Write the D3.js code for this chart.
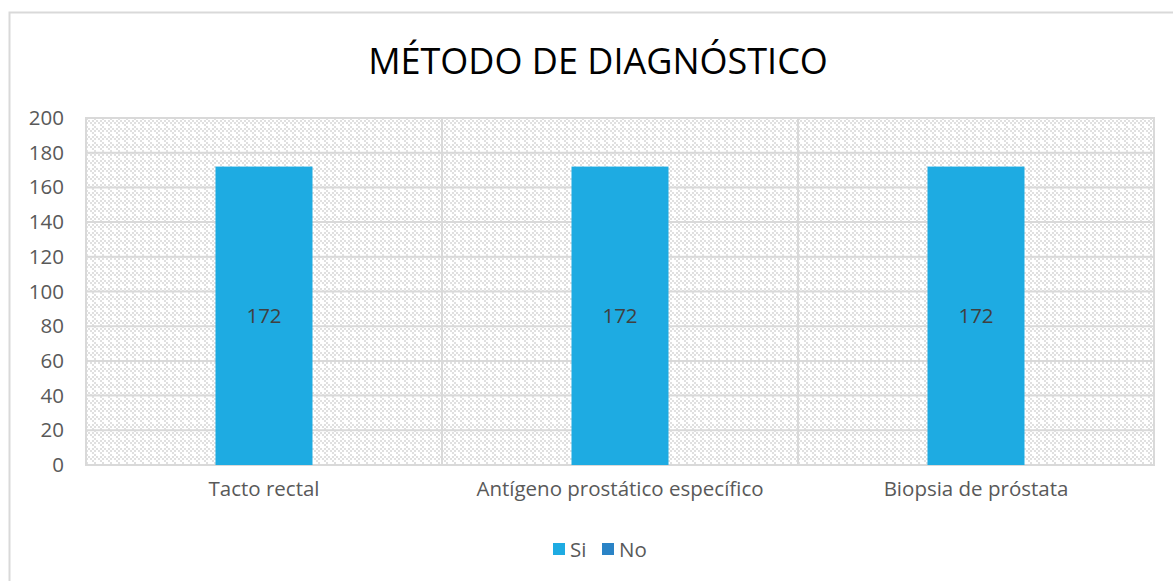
<!DOCTYPE html>
<html>
<head>
<meta charset="utf-8">
<script src="https://cdn.jsdelivr.net/npm/d3@7"></script>
<style>
  body { margin: 0; background: #fff; }
  text { font-family: "Open Sans", "Noto Sans", sans-serif; }
</style>
</head>
<body>
<div id="chart"></div>
<script>
'use strict';

// data
const categories = ['Tacto rectal', 'Antígeno prostático específico', 'Biopsia de próstata'];
const seriesNames = ['Si', 'No'];
const siValues = [172, 172, 172];
const noValues = [0, 0, 0];
const yTicks = [0, 20, 40, 60, 80, 100, 120, 140, 160, 180, 200];

const width = 1173, height = 581;
const plot = { left: 86, right: 1154, top: 118, bottom: 465 };
const siColor = '#1eabe2';
const noColor = '#2a83c6';
const gridColor = '#d9d9d9';
const textColor = '#595959';
const fontSize = 20.5;

const svg = d3.select('#chart').append('svg')
    .attr('width', width)
    .attr('height', height);

// hatch pattern for plot background
const defs = svg.append('defs');
const pat = defs.append('pattern')
    .attr('id', 'hatch')
    .attr('patternUnits', 'userSpaceOnUse')
    .attr('width', 8).attr('height', 8);
pat.append('rect').attr('width', 8).attr('height', 8).attr('fill', '#fff');
[[0, 0], [2, 2], [4, 4], [6, 6], [4, 0], [6, 2]].forEach(function(p) {
    pat.append('rect')
        .attr('x', p[0]).attr('y', p[1])
        .attr('width', 2).attr('height', 2)
        .attr('fill', '#e0e0e0');
});

// outer chart frame
svg.append('rect')
    .attr('x', 9.5).attr('y', 12.5)
    .attr('width', 1200).attr('height', 600)
    .attr('fill', 'none')
    .attr('stroke', '#d9d9d9')
    .attr('stroke-width', 2);

// scales
const x = d3.scaleBand()
    .domain(categories)
    .range([plot.left, plot.right]);

const y = d3.scaleLinear()
    .domain([0, 200])
    .range([plot.bottom, plot.top]);

// plot background
svg.append('rect')
    .attr('x', plot.left).attr('y', plot.top)
    .attr('width', plot.right - plot.left)
    .attr('height', plot.bottom - plot.top)
    .attr('fill', 'url(#hatch)')
    .attr('stroke', gridColor)
    .attr('stroke-width', 2);

// horizontal gridlines
svg.append('g').selectAll('line')
    .data(yTicks)
    .enter().append('line')
    .attr('x1', plot.left).attr('x2', plot.right)
    .attr('y1', d => y(d)).attr('y2', d => y(d))
    .attr('stroke', gridColor)
    .attr('stroke-width', 2);

// vertical gridlines between categories
svg.append('g').selectAll('line')
    .data(categories.slice(1))
    .enter().append('line')
    .attr('x1', d => x(d)).attr('x2', d => x(d))
    .attr('y1', plot.top).attr('y2', plot.bottom)
    .attr('stroke', gridColor)
    .attr('stroke-width', 2);

// y axis labels
const yAxis = d3.axisLeft(y).tickValues(yTicks).tickSize(0).tickPadding(0);
const yg = svg.append('g')
    .attr('transform', 'translate(' + 64 + ',0)')
    .call(yAxis);
yg.select('.domain').remove();
yg.selectAll('text')
    .attr('font-family', '"Open Sans", sans-serif')
    .attr('font-size', fontSize)
    .attr('fill', textColor);

// x axis labels
const xAxis = d3.axisBottom(x).tickSize(0).tickPadding(0);
const xg = svg.append('g')
    .attr('transform', 'translate(0,' + 481 + ')')
    .call(xAxis);
xg.select('.domain').remove();
xg.selectAll('text')
    .attr('font-family', '"Open Sans", sans-serif')
    .attr('font-size', fontSize)
    .attr('fill', textColor);

// bars
const barW = 97;
svg.append('g').selectAll('rect')
    .data(siValues)
    .enter().append('rect')
    .attr('x', (d, i) => x(categories[i]) + x.bandwidth() / 2 - barW / 2)
    .attr('y', d => y(d))
    .attr('width', barW)
    .attr('height', d => y(0) - y(d))
    .attr('fill', siColor);

// data labels
svg.append('g').selectAll('text')
    .data(siValues)
    .enter().append('text')
    .attr('x', (d, i) => x(categories[i]) + x.bandwidth() / 2)
    .attr('y', d => (y(d) + y(0)) / 2 + 7)
    .attr('text-anchor', 'middle')
    .attr('font-size', fontSize)
    .attr('fill', '#404040')
    .text(d => d);

// title
svg.append('text')
    .attr('x', 598)
    .attr('y', 74)
    .attr('text-anchor', 'middle')
    .attr('font-size', 36)
    .attr('fill', '#000')
    .text('MÉTODO DE DIAGNÓSTICO');

// legend
const legend = svg.append('g');
const legendX = [553, 602];
const legendColors = [siColor, noColor];
seriesNames.forEach(function(name, i) {
    legend.append('rect')
        .attr('x', legendX[i]).attr('y', 543)
        .attr('width', 12).attr('height', 12)
        .attr('fill', legendColors[i]);
    legend.append('text')
        .attr('x', legendX[i] + 17)
        .attr('y', 557)
        .attr('font-size', fontSize)
        .attr('fill', textColor)
        .text(name);
});
</script>
</body>
</html>
